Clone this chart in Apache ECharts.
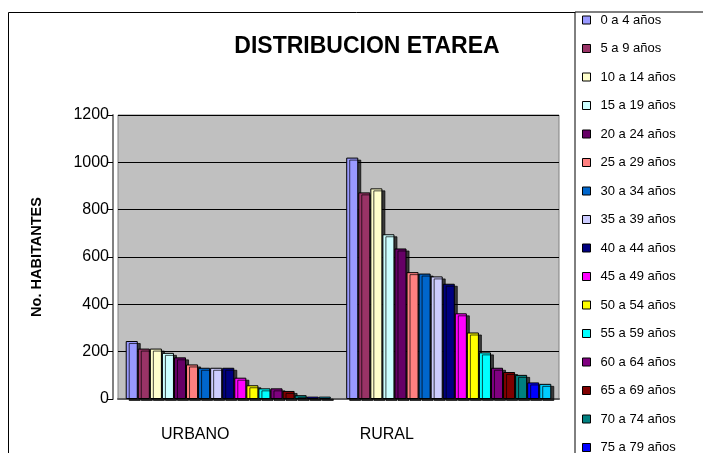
<!DOCTYPE html>
<html>
<head>
<meta charset="utf-8">
<script src="https://cdn.jsdelivr.net/npm/echarts@6/dist/echarts.min.js"></script>
<style>html,body{margin:0;padding:0;background:#fff}#c{width:703px;height:453px}</style>
</head>
<body>
<div id="c"></div>
<script>
const categories = ['URBANO', 'RURAL'];
const groups = ['0 a 4 años','5 a 9 años','10 a 14 años','15 a 19 años','20 a 24 años','25 a 29 años','30 a 34 años','35 a 39 años','40 a 44 años','45 a 49 años','50 a 54 años','55 a 59 años','60 a 64 años','65 a 69 años','70 a 74 años','75 a 79 años','80 y más años'];
const urbano = [245, 213, 213, 195, 176, 146, 132, 132, 132, 90, 58, 45, 45, 34, 16, 10, 10];
const rural  = [1020, 873, 890, 696, 636, 536, 530, 518, 487, 362, 281, 197, 132, 114, 102, 70, 64];
const colors = ['#9999FF','#993366','#FFFFCC','#CCFFFF','#660066','#FF8080','#0066CC','#CCCCFF','#000080','#FF00FF','#FFFF00','#00FFFF','#800080','#800000','#008080','#0000FF','#00CCFF'];
const yTicks = [0, 200, 400, 600, 800, 1000, 1200];

const FONT = '"Liberation Sans", Arial, sans-serif';
const chart = echarts.init(document.getElementById('c'), null, {renderer: 'canvas'});

const series = groups.map((g, i) => ({
  name: g,
  type: 'bar',
  data: [urbano[i], rural[i]],
  barGap: '0%',
  barCategoryGap: '7%',
  itemStyle: {
    color: colors[i],
    borderColor: '#000',
    borderWidth: 1,
    shadowColor: 'rgba(0,0,0,0.7)',
    shadowOffsetX: 3,
    shadowOffsetY: 2,
    shadowBlur: 0
  },
  emphasis: {disabled: true}
}));

chart.setOption({
  animation: false,
  color: colors,
  textStyle: {fontFamily: FONT},
  title: {
    text: 'DISTRIBUCION ETAREA',
    left: 362,
    textAlign: 'center',
    top: 30,
    textStyle: {fontFamily: FONT, fontWeight: 'bold', fontSize: 23, color: '#000'}
  },
  legend: {
    orient: 'vertical',
    left: 575,
    top: 12,
    height: 800,
    padding: [1, 200, 20, 7],
    itemWidth: 8,
    itemHeight: 8,
    itemGap: 14.5,
    icon: 'rect',
    borderColor: '#000',
    borderWidth: 1,
    backgroundColor: '#fff',
    itemStyle: {borderColor: '#000', borderWidth: 1, shadowBlur: 0, shadowOffsetX: 0, shadowOffsetY: 0, shadowColor: 'transparent'},
    textStyle: {fontFamily: FONT, fontSize: 13, color: '#000', lineHeight: 14, padding: [0, 0, 0, 5]},
    data: groups
  },
  graphic: [{
    type: 'rect',
    shape: {x: 8.5, y: 12.5, width: 1000, height: 1000},
    style: {fill: 'none', stroke: '#000', lineWidth: 1},
    silent: true,
    z: -10
  }],
  grid: {
    left: 118, right: 144, top: 115, bottom: 54,
    show: true,
    backgroundColor: '#C0C0C0',
    borderColor: '#808080',
    borderWidth: 1
  },
  xAxis: {
    type: 'category',
    data: categories,
    axisLine: {show: true, lineStyle: {color: '#606060', width: 2}},
    axisTick: {show: false},
    axisLabel: {
      margin: 28,
      fontFamily: FONT,
      fontSize: 16,
      color: '#000',
      formatter: v => v === 'URBANO' ? '{u|' + v + '}' : '{r|' + v + '}',
      rich: {
        u: {fontFamily: FONT, fontSize: 16, color: '#000', padding: [0, 66, 0, 0]},
        r: {fontFamily: FONT, fontSize: 16, color: '#000', padding: [0, 124, 0, 0]}
      }
    }
  },
  yAxis: {
    type: 'value',
    min: yTicks[0],
    max: yTicks[yTicks.length - 1],
    interval: 200,
    offset: 5,
    name: 'No. HABITANTES',
    nameLocation: 'middle',
    nameRotate: 90,
    nameGap: 69,
    nameTextStyle: {fontFamily: FONT, fontWeight: 'bold', fontSize: 14.5, color: '#000'},
    axisLine: {show: true, lineStyle: {color: '#808080', width: 2}},
    axisTick: {show: true, length: 5, lineStyle: {color: '#000'}},
    axisLabel: {margin: 4, fontFamily: FONT, fontSize: 16, color: '#000', formatter: v => String(v)},
    splitLine: {show: true, lineStyle: {color: '#000', width: 1}}
  },
  series: series
});
</script>
</body>
</html>
